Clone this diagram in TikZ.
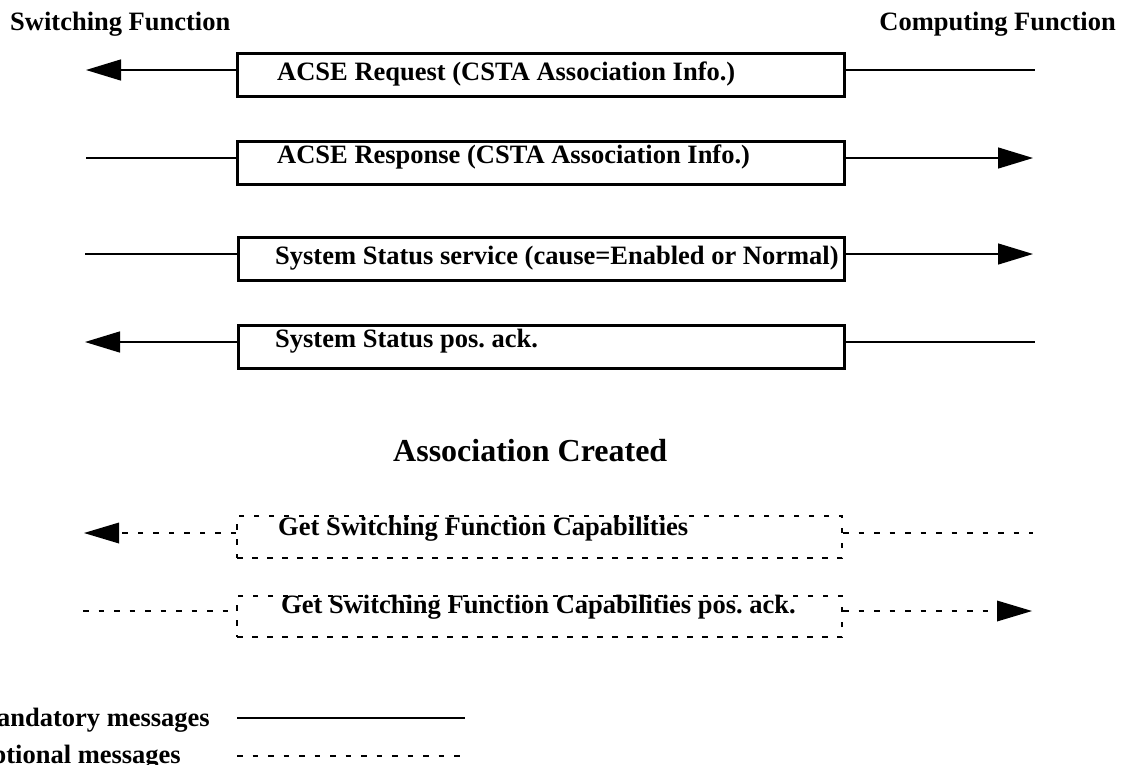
\documentclass[tikz,border=0pt]{standalone}
\usepackage{fontspec}
\setmainfont{Liberation Serif}
\usetikzlibrary{arrows.meta}
\frenchspacing
\begin{document}
\begin{tikzpicture}[x=1pt,y=-1pt,
  lbl/.style={inner sep=0pt,anchor=base west,font=\fontsize{26.5}{30}\selectfont\bfseries},
  ttl/.style={inner sep=0pt,font=\fontsize{26.5}{30}\selectfont\bfseries},
  msgbox/.style={draw,line width=2.6pt,rectangle,inner sep=0pt,anchor=north west},
  optbox/.style={draw,line width=2.2pt,dash pattern=on 5.5pt off 9.5pt,rectangle,inner sep=0pt,anchor=north west},
  conn/.style={line width=1.4pt},
  optconn/.style={line width=2.2pt,dash pattern=on 5.5pt off 10pt},
  tip/.style={-{Triangle[length=35pt,width=21pt]}}
]
\useasboundingbox (0,0) rectangle (1125,764);
\clip (0,0) rectangle (1125,764);

% titles
\node[ttl,anchor=base west] (sf) at (10,30) {Switching Function};
\node[ttl,anchor=base east] (cf) at (1116,30) {Computing Function};

% boxes
\node[msgbox,minimum width=607pt,minimum height=43pt] (b1) at (236,52) {};
\node[msgbox,minimum width=607pt,minimum height=43pt] (b2) at (236,140) {};
\node[msgbox,minimum width=606pt,minimum height=43pt] (b3) at (237,236) {};
\node[msgbox,minimum width=606pt,minimum height=43pt] (b4) at (237,324) {};
\node[optbox,minimum width=605pt,minimum height=42pt] (b5) at (236,515) {};
\node[optbox,minimum width=605pt,minimum height=41pt] (b6) at (236,595) {};

% labels
\node[lbl] (t1) at (277,80) {ACSE Request (CSTA Association Info.)};
\node[lbl] (t2) at (277,163) {ACSE Response (CSTA Association Info.)};
\node[lbl] (t3) at (275,264) {System Status service (cause=Enabled or Normal)};
\node[lbl] (t4) at (275,347) {System Status pos. ack.};
\node[lbl] (t5) at (278,535) {Get Switching Function Capabilities};
\node[lbl] (t6) at (281,613) {Get Switching Function Capabilities pos. ack.};

% connector end points
\coordinate (l1) at (86,70);   \coordinate (r1) at (1035,70);
\coordinate (l2) at (86,158);  \coordinate (r2) at (1033,158);
\coordinate (l3) at (85,254);  \coordinate (r3) at (1033,254);
\coordinate (l4) at (85,342);  \coordinate (r4) at (1035,342);
\coordinate (l5) at (84,533);  \coordinate (r5) at (1033,533);
\coordinate (l6) at (83,611);  \coordinate (r6) at (1032,611);

% mandatory messages
\draw[conn,tip] (b1.west |- l1) -- (l1);
\draw[conn] (b1.east |- r1) -- (r1);
\draw[conn] (l2) -- (b2.west |- l2);
\draw[conn,tip] (b2.east |- r2) -- (r2);
\draw[conn] (l3) -- (b3.west |- l3);
\draw[conn,tip] (b3.east |- r3) -- (r3);
\draw[conn,tip] (b4.west |- l4) -- (l4);
\draw[conn] (b4.east |- r4) -- (r4);

% association created
\node[ttl,anchor=base west,font=\fontsize{32}{36}\selectfont\bfseries] (ac) at (393,461) {Association Created};

% optional messages
\draw[optconn] (b5.west |- l5) -- ([xshift=34pt]l5);
\fill (l5) -- ++(35,-10.5) -- ++(0,21) -- cycle;
\draw[optconn] (b5.east |- r5) -- (r5);
\draw[optconn] (l6) -- (b6.west |- l6);
\draw[optconn] (b6.east |- r6) -- ([xshift=-34pt]r6);
\fill (r6) -- ++(-35,-10.5) -- ++(0,21) -- cycle;

% legend
\node[ttl,anchor=base east] (lm) at (210,726) {Mandatory messages};
\node[ttl,anchor=base east] (lo) at (181,763) {Optional messages};
\coordinate (m1) at (237,718); \coordinate (m2) at (465,718);
\coordinate (o1) at (237,756); \coordinate (o2) at (465,756);
\draw[line width=2.2pt] (m1) -- (m2);
\draw[optconn] (o1) -- (o2);
\end{tikzpicture}
\end{document}
